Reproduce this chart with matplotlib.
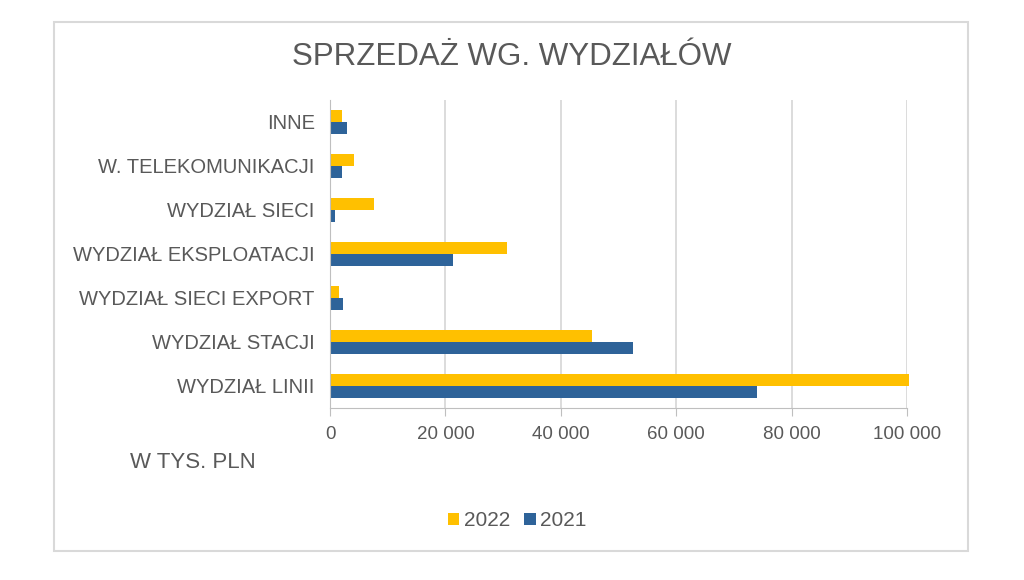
import matplotlib.pyplot as plt
from matplotlib.patches import Rectangle
from matplotlib.ticker import FuncFormatter
import numpy as np

plt.rcParams['font.family'] = ['Liberation Sans', 'DejaVu Sans']

kategorie = ["INNE", "W. TELEKOMUNIKACJI", "WYDZIAŁ SIECI", "WYDZIAŁ EKSPLOATACJI",
             "WYDZIAŁ SIECI EXPORT", "WYDZIAŁ STACJI", "WYDZIAŁ LINII"]
sprzedaz_2022 = [2100, 4200, 7600, 30700, 1600, 45400, 100300]
sprzedaz_2021 = [2900, 2100, 900, 21300, 2300, 52500, 74000]

kolor_2022 = '#FFC000'
kolor_2021 = '#2E6399'
szary = '#595959'

fig = plt.figure(figsize=(10.24, 5.8), dpi=100)
ax = fig.add_axes([0.3223, 0.2966, 0.5635, 0.531])

# ramka wokol wykresu
fig.patches.append(Rectangle((54 / 1024, 1 - 551 / 580), 914 / 1024, 529 / 580,
                             transform=fig.transFigure, fill=False,
                             edgecolor='#D9D9D9', linewidth=1.5))

y = np.arange(len(kategorie))
h = 0.28
ax.barh(y - h / 2, sprzedaz_2022, height=h, color=kolor_2022, label='2022', clip_on=False)
ax.barh(y + h / 2, sprzedaz_2021, height=h, color=kolor_2021, label='2021', clip_on=False)

ax.set_ylim(len(kategorie) - 0.5, -0.5)
ax.set_xlim(0, 100000)
ax.set_yticks(y)
ax.set_yticklabels(kategorie, fontsize=14.5, color=szary)
ax.set_xticks(range(0, 100001, 20000))
ax.xaxis.set_major_formatter(FuncFormatter(lambda v, p: f"{int(v):,}".replace(",", " ")))
ax.tick_params(axis='x', labelsize=13.5, labelcolor=szary, length=6, color='#BFBFBF', pad=7)
ax.tick_params(axis='y', length=0, pad=11)

ax.grid(axis='x', color='#D9D9D9', linewidth=1.3)
ax.set_axisbelow(True)
for s in ['top', 'right']:
    ax.spines[s].set_visible(False)
ax.spines['bottom'].set_color('#BFBFBF')
ax.spines['left'].set_color('#BFBFBF')

fig.text(0.5, 1 - 57 / 580, "SPRZEDAŻ WG. WYDZIAŁÓW", ha='center', va='center',
         fontsize=22.5, color=szary)
fig.text(130 / 1024, 1 - 463 / 580, "W TYS. PLN", ha='left', va='center', fontsize=16, color=szary)

fig.legend(loc='center', bbox_to_anchor=(0.505, 1 - 521 / 580), ncol=2, frameon=False,
           fontsize=15, labelcolor=szary, handlelength=0.55, handleheight=0.55,
           handletextpad=0.2, columnspacing=0.7)

fig.savefig('out.png', dpi=100)
